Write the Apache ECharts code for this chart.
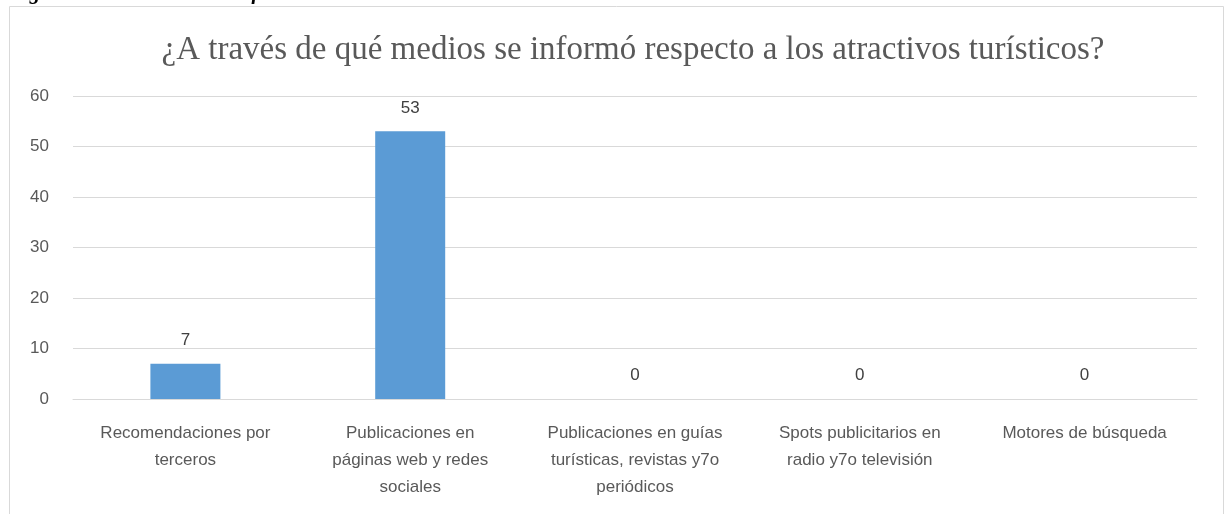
<!DOCTYPE html>
<html>
<head>
<meta charset="utf-8">
<script src="https://cdn.jsdelivr.net/npm/echarts@6/dist/echarts.min.js"></script>
<style>
  html, body { margin: 0; padding: 0; background: #fff; }
  #chart { width: 1225px; height: 514px; }
</style>
</head>
<body>
<div id="chart"></div>
<script>
// categories (wrapped as in the original)
let categories = [
  'Recomendaciones por\nterceros',
  'Publicaciones en\npáginas web y redes\nsociales',
  'Publicaciones en guías\nturísticas, revistas y7o\nperiódicos',
  'Spots publicitarios en\nradio y7o televisión',
  'Motores de búsqueda'
]
let values = [7, 53, 0, 0, 0]
let yTicks = [0, 10, 20, 30, 40, 50, 60]

let chartTitle = '¿A través de qué medios se informó respecto a los atractivos turísticos?'
let figCaption = 'Figura 14: Resultados de información'

let myChart = echarts.init(document.getElementById('chart'))
myChart.setOption({
  animation: false,
  title: {
    text: chartTitle,
    left: 628,
    textAlign: 'center',
    top: 29,
    textStyle: {
      fontFamily: 'Liberation Serif',
      fontSize: 33,
      fontWeight: 'normal',
      color: '#595959'
    }
  },
  graphic: [
    {
      type: 'rect',
      shape: { x: 9.5, y: 6.5, width: 1214, height: 530 },
      style: { fill: 'none', stroke: '#d9d9d9', lineWidth: 1 },
      silent: true
    },
    {
      type: 'text',
      left: 10,
      top: -17,
      style: {
        text: figCaption,
        font: 'italic bold 21px "Liberation Serif"',
        fill: '#000'
      },
      silent: true
    }
  ],
  grid: {
    left: 73,
    right: 28,
    top: 96,
    bottom: 115
  },
  xAxis: {
    type: 'category',
    data: categories,
    axisLine: { lineStyle: { color: '#d9d9d9', width: 1 } },
    axisTick: { show: false },
    axisLabel: {
      interval: 0,
      margin: 21,
      fontFamily: 'Liberation Sans',
      fontSize: 17,
      lineHeight: 27,
      color: '#595959'
    }
  },
  yAxis: {
    type: 'value',
    min: yTicks[0],
    max: yTicks[yTicks.length - 1],
    interval: 10,
    axisLine: { show: false },
    axisTick: { show: false },
    splitLine: { lineStyle: { color: '#d9d9d9', width: 1 } },
    axisLabel: {
      margin: 24,
      fontFamily: 'Liberation Sans',
      fontSize: 17,
      color: '#595959'
    }
  },
  series: [
    {
      type: 'bar',
      data: values,
      barWidth: 70,
      itemStyle: { color: '#5b9bd5' },
      label: {
        show: true,
        position: 'top',
        distance: 15,
        fontFamily: 'Liberation Sans',
        fontSize: 17,
        color: '#404040'
      }
    }
  ]
})
</script>
</body>
</html>
